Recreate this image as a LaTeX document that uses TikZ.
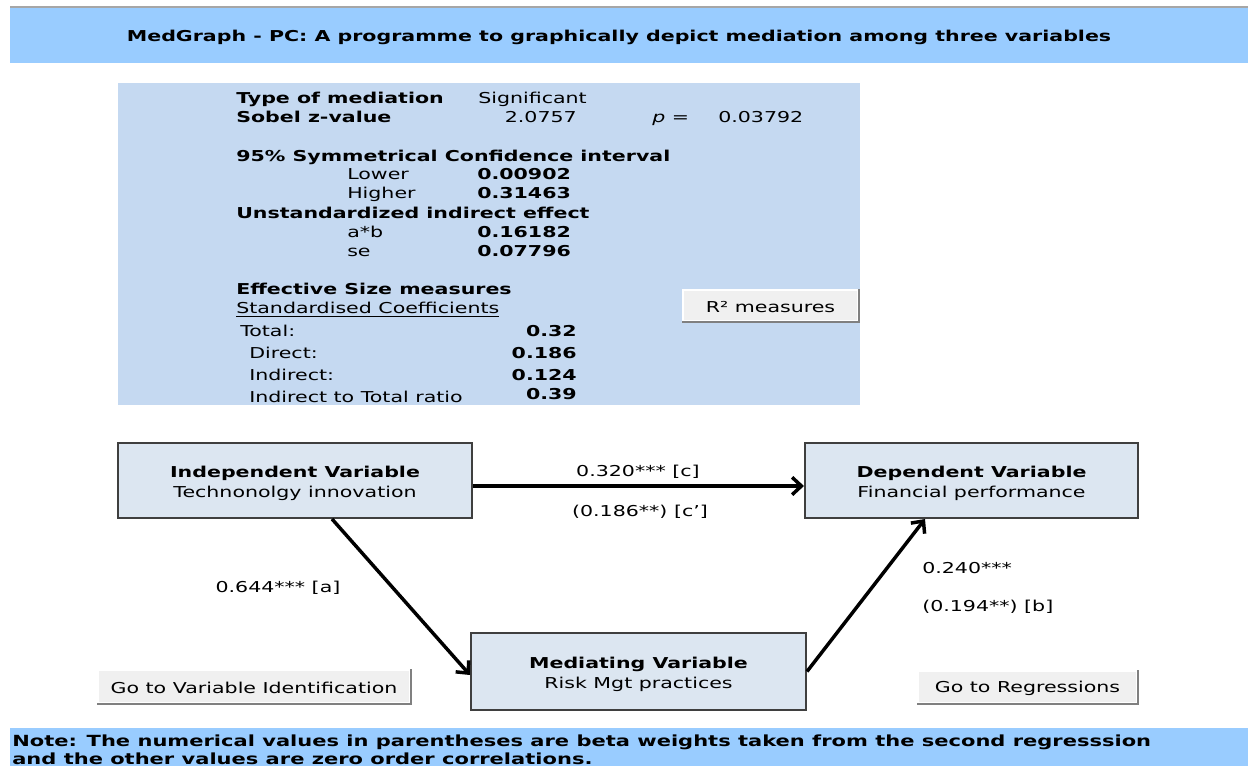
\documentclass[tikz,border=0pt]{standalone}
\usepackage{fontspec}
\setmainfont{DejaVu Sans}[FakeStretch=1.37]
\usetikzlibrary{arrows.meta,calc}
\definecolor{hdr}{HTML}{99CCFF}
\definecolor{panel}{HTML}{C5D9F1}
\definecolor{boxfill}{HTML}{DCE6F1}
\definecolor{boxline}{HTML}{3F3F3F}
\definecolor{btnfill}{HTML}{F0F0F0}
\definecolor{btndark}{HTML}{808080}
\begin{document}
\begin{tikzpicture}[x=0.75pt,y=-0.75pt,
  txt/.style={inner sep=0pt, font=\fontsize{11.25pt}{13pt}\selectfont},
  btxt/.style={inner sep=0pt, font=\fontsize{11.25pt}{13pt}\selectfont\bfseries},
  varbox/.style={draw=boxline, line width=1.5pt, fill=boxfill, align=center, inner sep=0pt,
    font=\fontsize{11.25pt}{15pt}\selectfont},
  arr/.style={line width=2.6pt, -{Straight Barb[length=7pt,width=13pt]}},
  btn/.style={fill=btnfill, draw=white, line width=1pt, inner sep=0pt,
    font=\fontsize{11.25pt}{13pt}\selectfont},
  btnshade/.style={draw=btndark, line width=1.5pt}
]
\useasboundingbox (0,0) rectangle (1248,766);
\fill[white] (0,0) rectangle (1248,766);

% header band
\fill[hdr] (10,8) rectangle (1248,63);
\draw[gray!70, line width=1pt] (10,7) -- (1248,7);
\node[btxt] (title) at (619,37) {MedGraph - PC: A programme to graphically depict mediation among three variables};

% stats panel
\fill[panel] (118,83) rectangle (860,405);
\node[btxt, anchor=base west] (l1) at (236,104) {Type of mediation};
\node[txt, anchor=base west] (v1) at (478,104) {Significant};
\node[btxt, anchor=base west] (l2) at (236,123) {Sobel z-value};
\node[txt, anchor=base east] (v2) at (577,123) {2.0757};
\node[txt, anchor=base west] (p) at (652,123) {\textit{p} =};
\node[txt, anchor=base west] (pv) at (718,123) {0.03792};

\node[btxt, anchor=base west] (ci) at (236,162) {95\% Symmetrical Confidence interval};
\node[txt, anchor=base west] (lo) at (347,180) {Lower};
\node[btxt, anchor=base west] (lov) at (477,180) {0.00902};
\node[txt, anchor=base west] (hi) at (347,199) {Higher};
\node[btxt, anchor=base west] (hiv) at (477,199) {0.31463};
\node[btxt, anchor=base west] (ui) at (236,219) {Unstandardized indirect effect};
\node[txt, anchor=base west] (ab) at (347,238) {a*b};
\node[btxt, anchor=base west] (abv) at (477,238) {0.16182};
\node[txt, anchor=base west] (se) at (347,257) {se};
\node[btxt, anchor=base west] (sev) at (477,257) {0.07796};

\node[btxt, anchor=base west] (es) at (236,295) {Effective Size measures};
\node[txt, anchor=base west] (sc) at (236,314) {\underline{Standardised Coefficients}};
\node[txt, anchor=base west] (tot) at (240,336) {Total:};
\node[btxt, anchor=base east] (totv) at (577,336) {0.32};
\node[txt, anchor=base west] (dir) at (249,358) {Direct:};
\node[btxt, anchor=base east] (dirv) at (577,358) {0.186};
\node[txt, anchor=base west] (ind) at (249,380) {Indirect:};
\node[btxt, anchor=base east] (indv) at (577,380) {0.124};
\node[txt, anchor=base west] (rat) at (249,402) {Indirect to Total ratio};
\node[btxt, anchor=base east] (ratv) at (577,399) {0.39};

\node[btn, minimum width=131.25pt, minimum height=23.25pt] (r2) at (770.5,305.5) {};
\draw[btnshade] (r2.north east) -- (r2.south east) -- (r2.south west);
\node[txt] (r2t) at ($(r2.center)+(0,1.5)$) {R² measures};

% variable boxes
\node[varbox, minimum width=265.5pt, minimum height=56.25pt] (iv) at (295,480.5)
  {\rule{0pt}{13pt}\textbf{Independent Variable}\\Technonolgy innovation};
\node[varbox, minimum width=249.75pt, minimum height=56.25pt] (dv) at (971.5,480.5)
  {\rule{0pt}{13pt}\textbf{Dependent Variable}\\Financial performance};
\node[varbox, minimum width=251.25pt, minimum height=57.75pt] (mv) at (638.5,671.5)
  {\rule{0pt}{13pt}\textbf{Mediating Variable}\\Risk Mgt practices};

% arrows
\draw[arr] ($(iv.east)+(0,5.5)$) -- ($(dv.west)+(0,5.5)$);
\draw[arr] ($(iv.south)+(37,0)$) -- ($(mv.west)+(0,3.5)$);
\draw[arr] (mv.east) -- ($(dv.south)+(-46.5,0)$);

% labels
\node[txt] (lc) at (638,472) {0.320*** [c]};
\node[txt] (lcp) at (640,512) {(0.186**) [c']};
\node[txt] (la) at (278,588) {0.644*** [a]};
\node[txt, anchor=west] (lb1) at (922,568) {0.240***};
\node[txt, anchor=west] (lb2) at (922,607) {(0.194**) [b]};

% buttons
\node[btn, minimum width=234pt, minimum height=24.75pt] (gv) at (254,686.5) {};
\draw[btnshade] (gv.north east) -- (gv.south east) -- (gv.south west);
\node[txt] (gvt) at ($(gv.center)+(0,1.5)$) {Go to Variable Identification};
\node[btn, minimum width=164.25pt, minimum height=24pt] (gr) at (1027.5,687) {};
\draw[btnshade] (gr.north east) -- (gr.south east) -- (gr.south west);
\node[txt] (grt) at ($(gr.center)+(0,1.5)$) {Go to Regressions};

% note band
\fill[hdr] (10,728) rectangle (1248,766);
\node[anchor=west, align=left, inner sep=0pt, font=\fontsize{11.5pt}{13.5pt}\selectfont\bfseries] (note) at (12,750)
  {Note: The numerical values in parentheses are beta weights taken from the second regresssion\\and the other values are zero order correlations.};
\end{tikzpicture}
\end{document}
